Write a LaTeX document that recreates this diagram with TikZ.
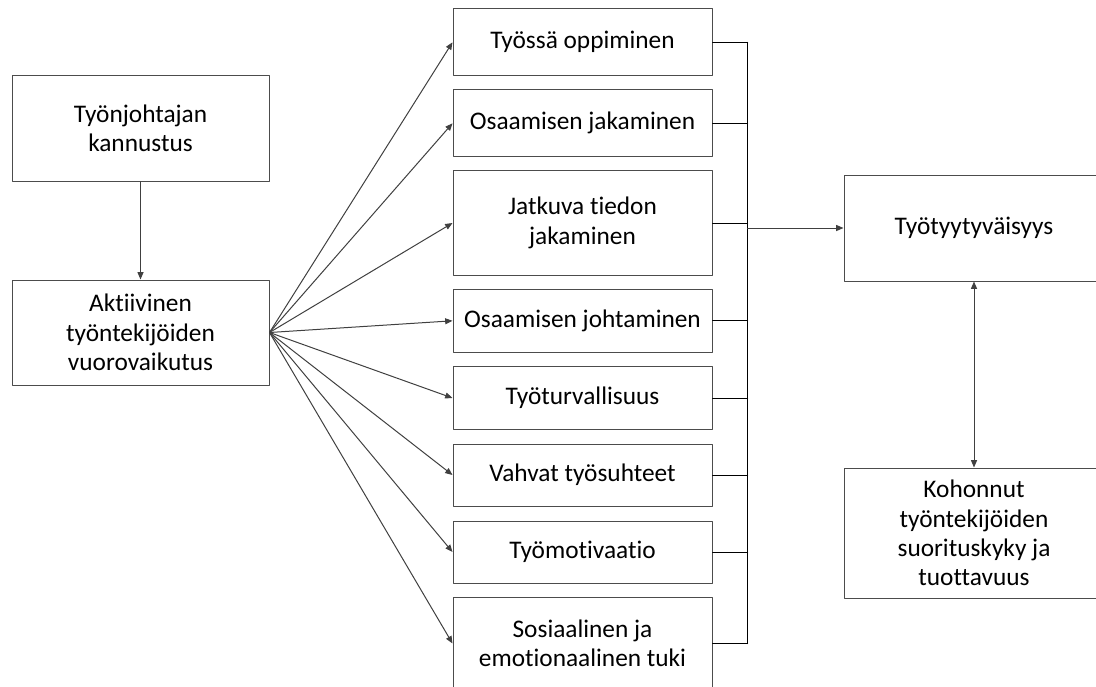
\documentclass[tikz,border=0pt]{standalone}
\usepackage{fontspec}
\setmainfont[Ligatures=NoCommon]{Carlito}
\usepackage{tikz}
\usetikzlibrary{arrows.meta, calc}

\begin{document}
\begin{tikzpicture}[x=0.75pt, y=-0.75pt, line cap=round, line join=round,
  >={Triangle[length=5.5pt, width=4.5pt]},
  box/.style={draw=black!70, line width=0.75pt, align=center, inner sep=2pt,
    font=\fontsize{19}{22}\selectfont},
  arr/.style={->, draw=black!75, line width=0.75pt},
  busline/.style={draw=black, line width=0.75pt}]

  % Canvas (the right column and the last box run off the edge)
  \useasboundingbox (0,0) rectangle (1096,686);
  \clip (0,0) rectangle (1096,686);

  \def\px{0.75pt} % one pixel of the canvas
  \def\mw{259}    % width of the middle column
  \def\sw{257}    % width of the left column
  \def\rw{260}    % width of the right column

  % Left column
  \node[box, minimum width=\sw*\px, minimum height=106*\px] (kannustus) at (140.5,128)
    {Työnjohtajan\\kannustus};
  \node[box, minimum width=\sw*\px, minimum height=105*\px] (vuoro) at (140.5,332.5)
    {Aktiivinen\\työntekijöiden\\vuorovaikutus};

  % Middle column
  \node[box, minimum width=\mw*\px, minimum height=66.7*\px] (m1) at (582.5,42.3) {Työssä oppiminen};
  \node[box, minimum width=\mw*\px, minimum height=66.7*\px] (m2) at (582.5,123.3) {Osaamisen jakaminen};
  \node[box, minimum width=\mw*\px, minimum height=104.6*\px] (m3) at (582.5,223) {Jatkuva tiedon\\jakaminen};
  \node[box, minimum width=\mw*\px, minimum height=63*\px] (m4) at (582.5,320.8) {Osaamisen johtaminen};
  \node[box, minimum width=\mw*\px, minimum height=62.6*\px] (m5) at (582.5,398) {Työturvallisuus};
  \node[box, minimum width=\mw*\px, minimum height=62*\px] (m6) at (582.5,475) {Vahvat työsuhteet};
  \node[box, minimum width=\mw*\px, minimum height=62*\px] (m7) at (582.5,552) {Työmotivaatio};
  \node[box, minimum width=\mw*\px, minimum height=92*\px] (m8) at (582.5,643.5) {Sosiaalinen ja\\emotionaalinen tuki};

  % Right column
  \node[box, minimum width=\rw*\px, minimum height=106*\px] (tyytyv) at (974,228) {Työtyytyväisyys};
  \node[box, minimum width=\rw*\px, minimum height=130*\px] (kohonnut) at (974,533)
    {Kohonnut\\työntekijöiden\\suorituskyky ja\\tuottavuus};

  % Arrows
  \draw[arr] (kannustus) -- (vuoro);
  \foreach \i in {1,...,8}
    \draw[arr] (vuoro.east) -- (m\i.west);

  % Collecting line
  \coordinate (bus) at (747.7,0);
  \foreach \i in {1,...,8}
    \draw[busline] (m\i.east) -- (m\i.east -| bus);
  \draw[busline] (m1.east -| bus) -- (m8.east -| bus);
  \draw[arr] (tyytyv.west -| bus) -- (tyytyv.west);

  \draw[arr, <->] (tyytyv) -- (kohonnut);

\end{tikzpicture}
\end{document}
